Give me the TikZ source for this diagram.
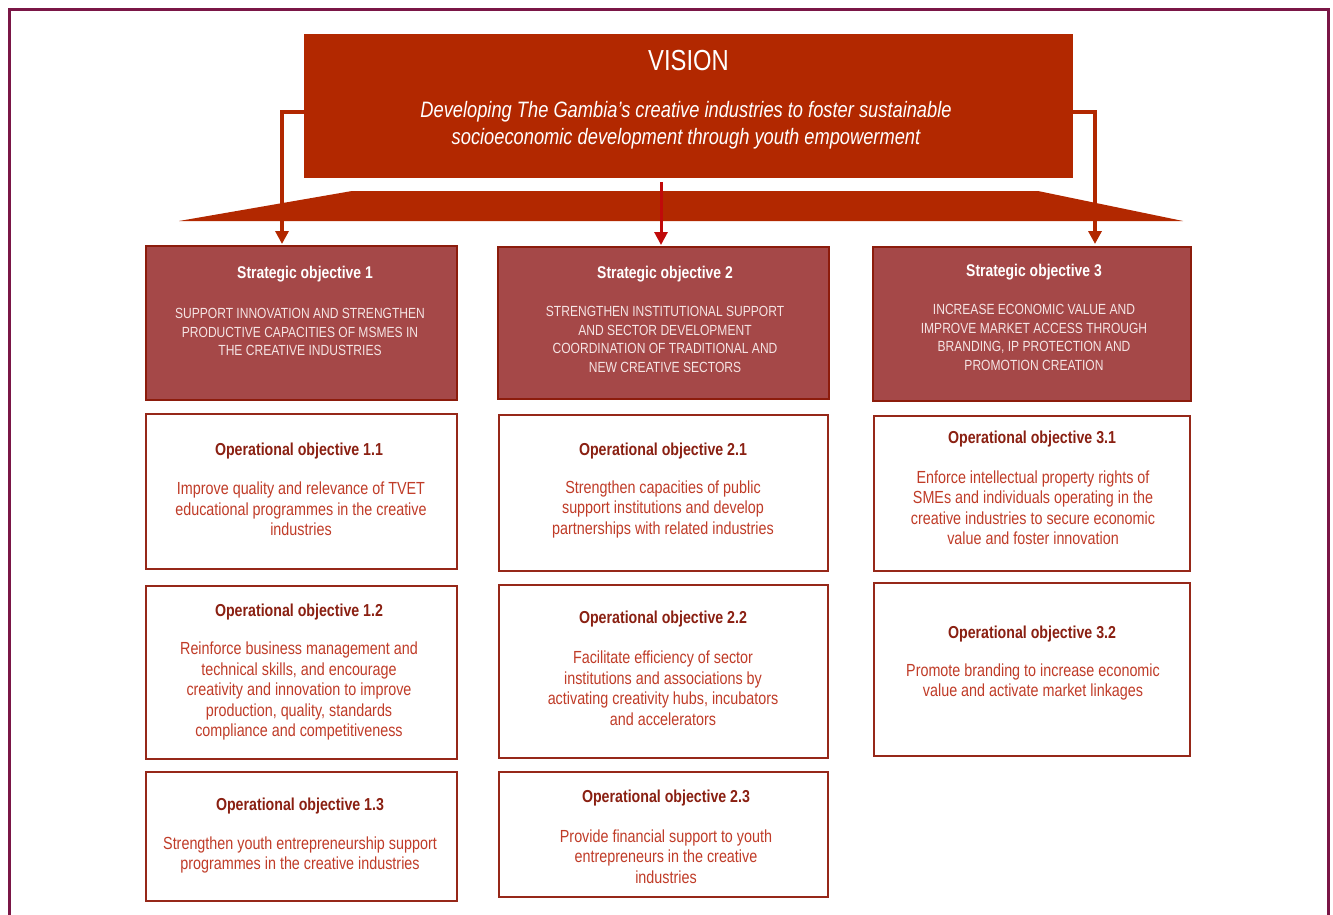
\documentclass[tikz,border=0pt]{standalone}
\usepackage{fontspec}
\setmainfont{Liberation Sans}[FakeStretch=0.82]
\usetikzlibrary{arrows.meta}
\definecolor{framec}{RGB}{122,22,70}
\definecolor{visionc}{RGB}{178,40,0}
\definecolor{centerc}{RGB}{192,10,10}
\definecolor{sofill}{RGB}{165,72,72}
\definecolor{soline}{RGB}{140,28,12}
\definecolor{soText}{RGB}{245,228,228}
\definecolor{opline}{RGB}{150,40,25}
\definecolor{optitle}{RGB}{138,32,18}
\definecolor{optext}{RGB}{192,60,40}
\tikzset{
  sobox/.style={draw=soline, fill=sofill, line width=2pt, inner sep=0pt},
  opbox/.style={draw=opline, fill=white, line width=2pt, inner sep=0pt},
  sotitle/.style={text=white, font=\fontsize{17}{20}\selectfont\bfseries, inner sep=0pt},
  sotext/.style={text=soText, align=center, font=\fontsize{14.7}{18.5}\selectfont, inner sep=0pt},
  optitlestyle/.style={text=optitle, font=\fontsize{17.3}{20}\selectfont\bfseries, inner sep=0pt},
  optextstyle/.style={text=optext, align=center, font=\fontsize{17.5}{20.5}\selectfont, inner sep=0pt},
  conn/.style={draw=visionc, line width=4pt, -{Triangle[width=13pt,length=13pt]}},
  cconn/.style={draw=centerc, line width=3pt, -{Triangle[width=13pt,length=13pt]}}
}
\begin{document}
\begin{tikzpicture}[x=1pt,y=-1pt]
\useasboundingbox (0,0) rectangle (1333,915);
% frame
\draw[framec, line width=3pt] (9.5,940) -- (9.5,9.5) -- (1328.5,9.5) -- (1328.5,940);
% vision
\node[fill=visionc, minimum width=769pt, minimum height=144pt, inner sep=0pt] (vision) at (688.5,106) {};
\node[text=white, font=\fontsize{29}{32}\selectfont, inner sep=0pt] (vtitle) at (688.5,61) {VISION};
\node[text=white, align=center, font=\fontsize{22.3}{27}\selectfont\itshape, inner sep=0pt] (vtext) at (686,125) {Developing The Gambia's creative industries to foster sustainable\\socioeconomic development through youth empowerment};
% trapezoid
\fill[visionc] (352,191) -- (1038,191) -- (1183,221) -- (179,221) -- cycle;
% connectors
\coordinate (vl) at (304,112);
\coordinate (al) at (282,244);
\coordinate (vr) at (1073,112);
\coordinate (ar) at (1095,244);
\coordinate (vc) at (661,182);
\coordinate (ac) at (661,245);
\draw[conn] (vl) -| (al);
\draw[conn] (vr) -| (ar);
\draw[cconn] (vc) -- (ac);
% strategic boxes
\node[sobox, minimum width=311pt, minimum height=154pt] (so1) at (301.5,323) {};
\node[sobox, minimum width=331pt, minimum height=152pt] (so2) at (663.5,323) {};
\node[sobox, minimum width=318pt, minimum height=154pt] (so3) at (1032,324) {};
\node[sotitle] (so1t) at (305,274) {Strategic objective 1};
\node[sotext] (so1x) at (300,332) {SUPPORT INNOVATION AND STRENGTHEN\\PRODUCTIVE CAPACITIES OF MSMES IN\\THE CREATIVE INDUSTRIES};
\node[sotitle] (so2t) at (665,274) {Strategic objective 2};
\node[sotext] (so2x) at (665,339.5) {STRENGTHEN INSTITUTIONAL SUPPORT\\AND SECTOR DEVELOPMENT\\COORDINATION OF TRADITIONAL AND\\NEW CREATIVE SECTORS};
\node[sotitle] (so3t) at (1034,272) {Strategic objective 3};
\node[sotext] (so3x) at (1034,337.5) {INCREASE ECONOMIC VALUE AND\\IMPROVE MARKET ACCESS THROUGH\\BRANDING, IP PROTECTION AND\\PROMOTION CREATION};
% operational boxes
\node[opbox, minimum width=311pt, minimum height=155pt] (o11) at (301.5,491.5) {};
\node[opbox, minimum width=311pt, minimum height=173pt] (o12) at (301.5,672.5) {};
\node[opbox, minimum width=311pt, minimum height=129pt] (o13) at (301.5,836.5) {};
\node[opbox, minimum width=329pt, minimum height=156pt] (o21) at (663.5,493) {};
\node[opbox, minimum width=329pt, minimum height=173pt] (o22) at (663.5,671.5) {};
\node[opbox, minimum width=329pt, minimum height=125pt] (o23) at (663.5,834.5) {};
\node[opbox, minimum width=316pt, minimum height=155pt] (o31) at (1032,493.5) {};
\node[opbox, minimum width=316pt, minimum height=173pt] (o32) at (1032,669.5) {};
% op texts
\node[optitlestyle] (o11t) at (299,451) {Operational objective 1.1};
\node[optextstyle] (o11x) at (301,509) {Improve quality and relevance of TVET\\educational programmes in the creative\\industries};
\node[optitlestyle] (o12t) at (299,612) {Operational objective 1.2};
\node[optextstyle] (o12x) at (299,691) {Reinforce business management and\\technical skills, and encourage\\creativity and innovation to improve\\production, quality, standards\\compliance and competitiveness};
\node[optitlestyle] (o13t) at (300,806) {Operational objective 1.3};
\node[optextstyle] (o13x) at (300,855) {Strengthen youth entrepreneurship support\\programmes in the creative industries};
\node[optitlestyle] (o21t) at (663,451) {Operational objective 2.1};
\node[optextstyle] (o21x) at (663,509) {Strengthen capacities of public\\support institutions and develop\\partnerships with related industries};
\node[optitlestyle] (o22t) at (663,619) {Operational objective 2.2};
\node[optextstyle] (o22x) at (663,688) {Facilitate efficiency of sector\\institutions and associations by\\activating creativity hubs, incubators\\and accelerators};
\node[optitlestyle] (o23t) at (666,798) {Operational objective 2.3};
\node[optextstyle] (o23x) at (666,856.5) {Provide financial support to youth\\entrepreneurs in the creative\\industries};
\node[optitlestyle] (o31t) at (1032,439) {Operational objective 3.1};
\node[optextstyle] (o31x) at (1033,507.5) {Enforce intellectual property rights of\\SMEs and individuals operating in the\\creative industries to secure economic\\value and foster innovation};
\node[optitlestyle] (o32t) at (1032,634) {Operational objective 3.2};
\node[optextstyle] (o32x) at (1033,682) {Promote branding to increase economic\\value and activate market linkages};
\end{tikzpicture}
\end{document}
